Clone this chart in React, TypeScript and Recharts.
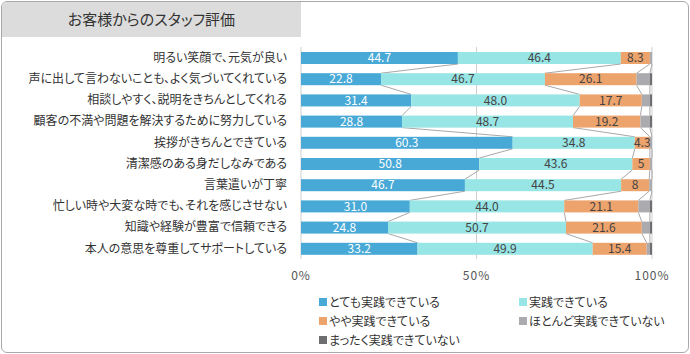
import React from "react";
import { BarChart, Bar, XAxis, YAxis, CartesianGrid, LabelList } from "recharts";

const categories = [
  "明るい笑顔で、元気が良い",
  "声に出して言わないことも、よく気づいてくれている",
  "相談しやすく、説明をきちんとしてくれる",
  "顧客の不満や問題を解決するために努力している",
  "挨拶がきちんとできている",
  "清潔感のある身だしなみである",
  "言葉遣いが丁寧",
  "忙しい時や大変な時でも、それを感じさせない",
  "知識や経験が豊富で信頼できる",
  "本人の意思を尊重してサポートしている",
];
const veryWell = [44.7, 22.8, 31.4, 28.8, 60.3, 50.8, 46.7, 31.0, 24.8, 33.2];
const well = [46.4, 46.7, 48.0, 48.7, 34.8, 43.6, 44.5, 44.0, 50.7, 49.9];
const somewhat = [8.3, 26.1, 17.7, 19.2, 4.3, 5, 8, 21.1, 21.6, 15.4];
const hardly = [0.6, 3.8, 2.3, 2.7, 0.6, 0.6, 0.8, 3.3, 2.3, 0.9];
const notAtAll = [0, 0.6, 0.6, 0.6, 0, 0, 0, 0.6, 0.6, 0.6];
const xTicks = [0, 50, 100];

const seriesNames = [
  "とても実践できている",
  "実践できている",
  "やや実践できている",
  "ほとんど実践できていない",
  "まったく実践できていない",
];
const seriesKeys = ["veryWell", "well", "somewhat", "hardly", "notAtAll"];
const seriesColors = ["#48A9D7", "#97E5E4", "#EDA36C", "#ABABAF", "#6E6E70"];
const seriesValues = [veryWell, well, somewhat, hardly, notAtAll];

const data = categories.map((name, i) => ({
  name,
  veryWell: veryWell[i],
  well: well[i],
  somewhat: somewhat[i],
  hardly: hardly[i],
  notAtAll: notAtAll[i],
}));

const cumulative = seriesValues.map((_, k) =>
  categories.map((__, i) => seriesValues.slice(0, k + 1).reduce((s, arr) => s + arr[i], 0))
);

const CHART_W = 690;
const CHART_H = 354;
const Y_W = 301;
const X_H = 30;
const MARGIN = { top: 47, right: 38, bottom: 65, left: 0 };
const PLOT_W = CHART_W - MARGIN.left - Y_W - MARGIN.right;
const PLOT_H = CHART_H - MARGIN.top - MARGIN.bottom - X_H;
const BAND = PLOT_H / categories.length;
const PPU = PLOT_W / 100;

const makeShape = (k: number) => (props: any) => {
  const { x, y, width, height, index, fill } = props;
  const w = Math.max(0, width || 0);
  const showLine = k < 4 && index < categories.length - 1;
  const cum = cumulative[k];
  const x1 = x + w;
  const x2 = showLine ? x1 + (cum[index + 1] - cum[index]) * PPU : 0;
  return (
    <g>
      {w > 0 && <rect x={x} y={y} width={w} height={height} fill={fill} />}
      {showLine && (
        <line x1={x1} y1={y + height} x2={x2} y2={y + BAND} stroke="#A8A8A8" strokeWidth={1} />
      )}
    </g>
  );
};

const fmt1 = (v: any) => (typeof v === "number" ? v.toFixed(1) : v);
const fmtOrange = (v: any) =>
  typeof v === "number" ? (Number.isInteger(v) ? String(v) : v.toFixed(1)) : v;

export default function App() {
  return (
    <div
      style={{
        position: "absolute",
        left: 0,
        top: 0,
        width: CHART_W,
        height: CHART_H,
        fontFamily: "'Noto Sans CJK JP', sans-serif",
        fontFeatureSettings: '"palt"',
        background: "#fff",
      }}
    >
      <div
        style={{
          position: "absolute",
          left: 1,
          top: 1,
          width: CHART_W - 4,
          height: CHART_H - 4,
          border: "1px solid #A9A9A9",
          borderRadius: 6,
          overflow: "hidden",
        }}
      >
        <div
          style={{
            position: "absolute",
            left: 0,
            top: 0,
            width: 299,
            height: 35,
            background: "#DCDCDC",
            color: "#333",
            fontSize: 15,
            lineHeight: "33px",
            textAlign: "center",
          }}
        >
          お客様からのスタッフ評価
        </div>
      </div>
      <div style={{ position: "absolute", left: 0, top: 0 }}>
        <BarChart width={CHART_W} height={CHART_H} data={data} layout="vertical" margin={MARGIN} barSize={12}>
          <CartesianGrid horizontal={false} vertical={true} stroke="#CFCFCF" />
          <XAxis
            type="number"
            domain={[0, 100]}
            ticks={xTicks}
            tickFormatter={(v) => `${v}%`}
            axisLine={false}
            tickLine={false}
            tickSize={0}
            tickMargin={12}
            height={X_H}
            tick={{ fontSize: 12, fill: "#555", letterSpacing: 1 }}
            interval={0}
          />
          <YAxis
            type="category"
            dataKey="name"
            width={Y_W}
            axisLine={false}
            tickLine={false}
            tickSize={0}
            tickMargin={14}
            tick={{ fontSize: 12, fill: "#333" }}
            interval={0}
          />
          {seriesKeys.map((key, k) => (
            <Bar
              key={key}
              dataKey={key}
              stackId="a"
              fill={seriesColors[k]}
              isAnimationActive={false}
              shape={makeShape(k)}
            >
              {k < 3 && (
                <LabelList
                  dataKey={key}
                  position="center"
                  fill={k === 0 ? "#FFFFFF" : "#444444"}
                  fontSize={12}
                  formatter={k === 2 ? fmtOrange : fmt1}
                />
              )}
            </Bar>
          ))}
        </BarChart>
      </div>
      <div
        style={{
          position: "absolute",
          left: 319,
          top: 293,
          width: 360,
          display: "grid",
          gridTemplateColumns: "200px 160px",
          rowGap: 2,
          fontSize: 12,
          color: "#333",
        }}
      >
        {seriesNames.map((n, k) => (
          <div key={n} style={{ display: "flex", alignItems: "center", height: 17 }}>
            <span
              style={{
                display: "inline-block",
                width: 8,
                height: 8,
                background: seriesColors[k],
                marginRight: 2,
              }}
            />
            <span>{n}</span>
          </div>
        ))}
      </div>
    </div>
  );
}
